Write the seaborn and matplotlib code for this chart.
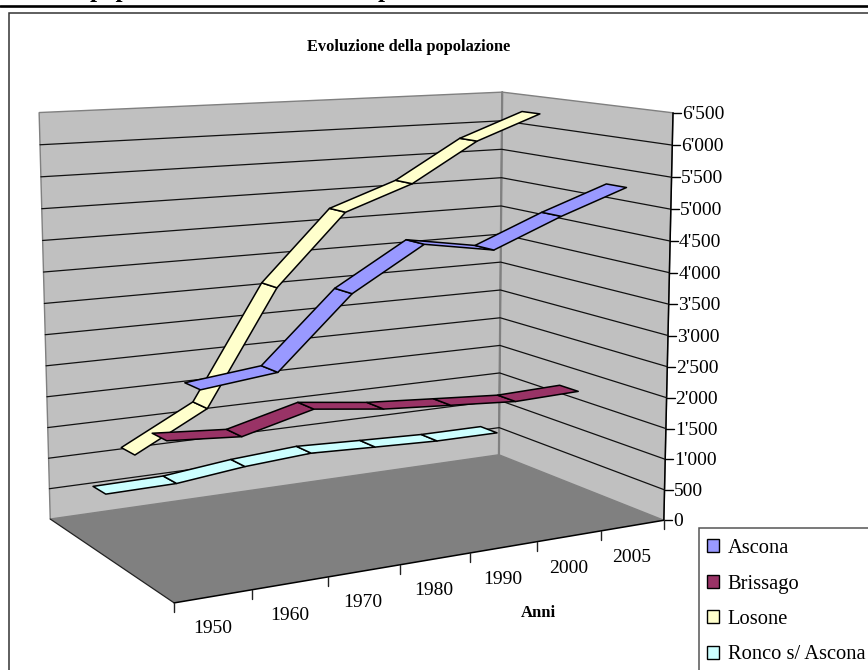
import numpy as np
import pandas as pd
import matplotlib
matplotlib.use('Agg')
import matplotlib.pyplot as plt
from matplotlib.patches import Patch, Rectangle
import seaborn as sns

# ---- data ----
years = ['1950', '1960', '1970', '1980', '1990', '2000', '2005']
series_names = ['Ascona', 'Brissago', 'Losone', 'Ronco s/ Ascona']
ascona = [2916, 3040, 4079, 4715, 4539, 4969, 5340]
brissago = [1921, 1837, 2120, 1984, 1908, 1834, 1868]
losone = [1438, 2022, 3806, 4909, 5289, 5912, 6302]
ronco = [538, 551, 675, 749, 704, 663, 661]
z_ticks = [0, 500, 1000, 1500, 2000, 2500, 3000, 3500, 4000, 4500, 5000, 5500, 6000, 6500]
z_labels = ['0', '500', "1'000", "1'500", "2'000", "2'500", "3'000", "3'500", "4'000",
            "4'500", "5'000", "5'500", "6'000", "6'500"]
colors = ['#9999FF', '#993366', '#FFFFCC', '#CCFFFF']
all_values = [ascona, brissago, losone, ronco]
z_max = 6500

sns.set_theme(style='white')
plt.rcParams['font.family'] = ['Liberation Serif', 'DejaVu Serif']

W, H = 868, 670
fig = plt.figure(figsize=(W / 100, H / 100), dpi=100)
ax = fig.add_axes([0, 0, 1, 1])
ax.set_xlim(0, W)
ax.set_ylim(H, 0)
ax.axis('off')

# perspective camera fitted to the box corners (year, series, value fractions -> canvas)
box = [((0, 0, 0), (174, 603)), ((1, 0, 0), (663, 520)), ((0, 1, 0), (50, 519)),
       ((1, 1, 0), (500, 455)), ((0, 1, 1), (39.5, 112.5)), ((1, 1, 1), (501, 92)),
       ((1, 0, 1), (674, 113))]
A, b = [], []
for (X, Y, Z), (u, v) in box:
    A.append([X, Y, Z, 1, 0, 0, 0, 0, -u * X, -u * Y, -u * Z]); b.append(u)
    A.append([0, 0, 0, 0, X, Y, Z, 1, -v * X, -v * Y, -v * Z]); b.append(v)
sol = np.linalg.lstsq(np.array(A, float), np.array(b, float), rcond=None)[0]
CAM = np.append(sol, 1).reshape(3, 4)


def proj(X, Y, Z):
    h = CAM @ np.array([X, Y, Z, 1.0])
    return h[:2] / h[2]


def poly(points, **kw):
    ax.fill(*zip(*[proj(*p) for p in points]), **kw)


def seg(points, **kw):
    xy = np.array([proj(*p) for p in points])
    frame = pd.DataFrame({'x': xy[:, 0], 'y': xy[:, 1], 'o': range(len(xy))})
    sns.lineplot(data=frame, x='x', y='y', sort=False, estimator=None, ax=ax,
                 legend=False, **kw)


# page furniture
ax.plot([0, W], [5.7, 5.7], color='black', lw=1.9, zorder=1)
ax.add_patch(Rectangle((9, 12.7), W + 50, H + 50, fc='white', ec='#333333', lw=1.1, zorder=0))
bold = dict(fontweight='bold', color='black', va='baseline', ha='left', clip_on=True)
ax.text(90, -3.2, 'popolazione', fontsize=18, **bold)
ax.text(378, -3.2, 'p', fontsize=18, **bold)

# walls and floor
poly([(0, 1, 0), (1, 1, 0), (1, 1, 1), (0, 1, 1)], fc='#C0C0C0', ec='#808080', lw=1, zorder=2)
poly([(1, 1, 0), (1, 0, 0), (1, 0, 1), (1, 1, 1)], fc='#C0C0C0', ec='#808080', lw=1, zorder=2)
poly([(0, 0, 0), (1, 0, 0), (1, 1, 0), (0, 1, 0)], fc='#808080', ec='none', zorder=2.5)
seg([(1, 1, 0), (1, 1, 1)], color='#808080', lw=1.6, zorder=3)
seg([(0, 1, 0), (0, 0, 0)], color='#222222', lw=0.9, zorder=3)
seg([(0, 0, 0), (1, 0, 0)], color='black', lw=1.1, zorder=3)
seg([(1, 0, 0), (1, 0, 1)], color='black', lw=1.1, zorder=3)

# gridlines
for z in z_ticks[1:-1]:
    f = z / z_max
    seg([(0, 1, f), (1, 1, f), (1, 0, f)], color='#111111', lw=0.9, zorder=3)

# value axis
for z, lab in zip(z_ticks, z_labels):
    u, v = proj(1, 0, z / z_max)
    ax.plot([u, u + 8], [v, v], color='black', lw=1, zorder=3)
    ax.text(u + 9, v + 1.5, lab, fontsize=14, color='black', ha='left', va='center')

# year axis
n = len(years)
for i in range(n + 1):
    u, v = proj(i / n, 0, 0)
    ax.plot([u, u], [v, v + 9], color='#222222', lw=1, zorder=3)
for i, lab in enumerate(years):
    u, v = proj((i + .5) / n, 0, 0)
    ax.text(u - 1, v + 32, lab, fontsize=14, color='black', ha='center', va='center')

# ribbons, back to front
half = 0.055
for k in reversed(range(len(series_names))):
    Y = (k + .5) / len(series_names)
    vals = all_values[k]
    for i in range(n - 1):
        X0, X1 = (i + .5) / n, (i + 1.5) / n
        Z0, Z1 = vals[i] / z_max, vals[i + 1] / z_max
        poly([(X0, Y - half, Z0), (X1, Y - half, Z1), (X1, Y + half, Z1), (X0, Y + half, Z0)],
             fc=colors[k], ec='black', lw=1.1, joinstyle='round', zorder=4 + (3 - k) + i * .01)

# titles
ax.text(409, 47, 'Evoluzione della popolazione', fontsize=11.8, fontweight='bold',
        color='black', ha='center', va='center')
ax.text(538, 613, 'Anni', fontsize=12, fontweight='bold', color='black', ha='center', va='center')

# legend
ax.add_patch(Rectangle((699, 528), W, H, fc='white', ec='#555555', lw=1.1, zorder=8))
handles = [Patch(fc=c, ec='black', lw=1) for c in colors]
leg = ax.legend(handles, series_names, loc='upper left', bbox_to_anchor=(703 / W, 1 - 535 / H),
                frameon=False, fontsize=14.8, handlelength=0.6, handleheight=0.6,
                handletextpad=0.4, labelspacing=0.8, borderpad=0.2, borderaxespad=0,
                labelcolor='black')
leg.set_zorder(9)

fig.savefig('out.png', dpi=100)
